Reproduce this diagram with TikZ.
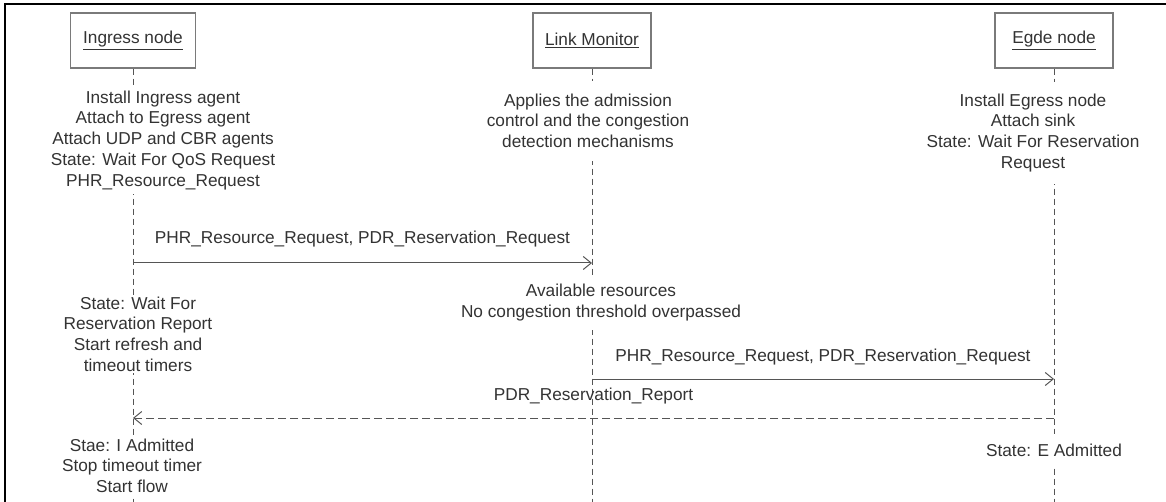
\documentclass[tikz,border=0pt]{standalone}
\usepackage{fontspec}
\setmainfont{Liberation Sans}
\usetikzlibrary{arrows.meta}
\definecolor{txt}{HTML}{333333}
\definecolor{ln}{HTML}{555555}
\definecolor{bx}{HTML}{7A7A7A}
\begin{document}
\begin{tikzpicture}[x=1pt,y=-1pt,
  every node/.style={font=\fontsize{17.25}{20.7}\selectfont, text=txt},
  actor/.style={draw=bx, line width=1.3pt, minimum width=118pt, minimum height=55pt, inner sep=0pt},
  note/.style={align=center, fill=white, inner xsep=2pt},
  life/.style={draw=ln, line width=1pt, dash pattern=on 6pt off 4pt},
  msg/.style={draw=ln, line width=1pt, -{Straight Barb[length=8pt,width=13pt]}},
  ret/.style={msg, dash pattern=on 8pt off 4pt},
  lbl/.style={inner sep=0pt, midway},
]
\useasboundingbox (0,0) rectangle (1166,502);
\fill[white] (0,0) rectangle (1166,502);
% frame (top and left edges)
\draw[black, line width=2pt] (5,502) -- (5,4) -- (1166,4);

% actors
\node[actor, minimum width=125pt] (ing) at (133,40.5) {\underline{Ingress node}};
\node[actor] (lm) at (592,40.5) {\underline{Link Monitor}};
\node[actor] (egd) at (1054,40.5) {\underline{Egde node}};

% lifeline ends
\coordinate (ingE) at (ing.south |- 0,502);
\coordinate (lmE) at (lm.south |- 0,502);
\coordinate (egdE) at (egd.south |- 0,502);
\draw[life] (ing.south) -- (ingE);
\draw[life] (lm.south) -- (lmE);
\draw[life] (egd.south) -- (egdE);

% notes
\node[note, inner ysep=4pt] (n1) at (163,140.2) {Install Ingress agent\\Attach to Egress agent\\Attach UDP and CBR agents\\State: Wait For QoS Request\\PHR\_Resource\_Request};
\node[note, inner ysep=13pt] (n2) at (588,120.6) {Applies the admission\\control and the congestion\\detection mechanisms};
\node[note, inner ysep=12pt] (n3) at (1033,132.8) {Install Egress node\\Attach sink\\State: Wait For Reservation\\Request};
\node[note, inner ysep=9pt] (n4) at (601,302.4) {Available resources\\No congestion threshold overpassed};
\node[note, inner ysep=2pt] (n5) at (138,334) {State: Wait For\\Reservation Report\\Start refresh and\\timeout timers};
\node[note, inner ysep=3pt] (n6) at (132,465.6) {Stae: I Admitted\\Stop timeout timer\\Start flow};
\node[note, inner ysep=10pt] (n7) at (1054,449.9) {State: E Admitted};

% message points
\coordinate (m1s) at (ing.south |- 0,263);
\coordinate (m1e) at (lm.south |- 0,263);
\coordinate (m2s) at (lm.south |- 0,379);
\coordinate (m2e) at (egd.south |- 0,379);
\coordinate (m3s) at (egd.south |- 0,418);
\coordinate (m3e) at (ing.south |- 0,418);

\draw[msg] (m1s) -- (m1e) node[lbl, above=15pt] (l1) {PHR\_Resource\_Request, PDR\_Reservation\_Request};
\draw[msg] (m2s) -- (m2e) node[lbl, above=13pt] (l2) {PHR\_Resource\_Request, PDR\_Reservation\_Request};
\draw[ret] (m3s) -- (m3e) node[lbl, above=13pt] (l3) {PDR\_Reservation\_Report};
\end{tikzpicture}
\end{document}
